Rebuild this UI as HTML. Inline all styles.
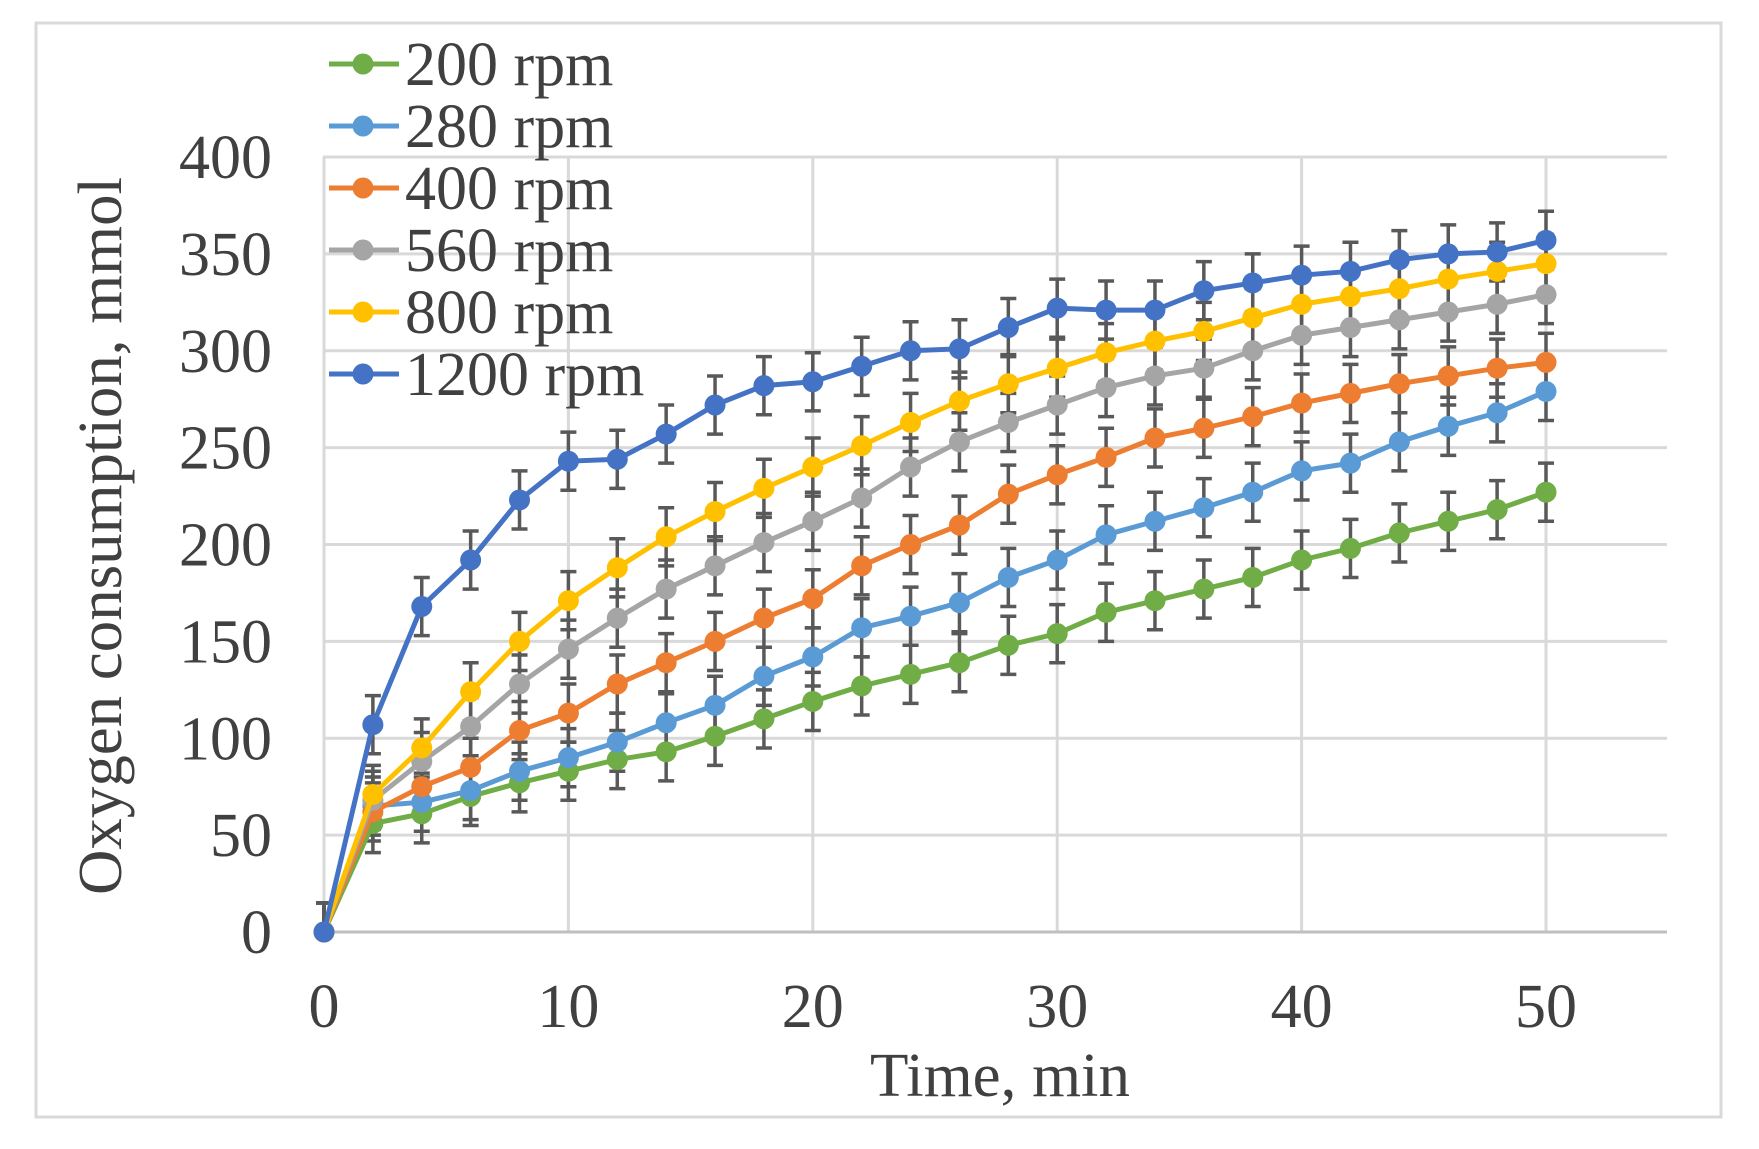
<!DOCTYPE html>
<html><head><meta charset="utf-8"><style>
html,body{margin:0;padding:0;background:#fff}
svg{display:block}
text{font-family:"Liberation Serif",serif;fill:#404040}
</style></head><body>
<svg width="1759" height="1149" viewBox="0 0 1759 1149" xmlns="http://www.w3.org/2000/svg">
<rect x="36" y="23" width="1685" height="1094" fill="#fff" stroke="#d9d9d9" stroke-width="3"/>
<g id="grid" stroke="#d9d9d9" stroke-width="3"></g>
<g id="yt" font-size="62" text-anchor="end"></g>
<g id="xt" font-size="62" text-anchor="middle"></g>
<text x="1000" y="1096" font-size="62" text-anchor="middle" textLength="260" lengthAdjust="spacingAndGlyphs">Time, min</text>
<text transform="translate(121,536) rotate(-90)" font-size="62" text-anchor="middle" textLength="718" lengthAdjust="spacingAndGlyphs">Oxygen consumption, mmol</text>
<g id="err" stroke="#595959" stroke-width="3.5"></g>
<g id="ser"></g>
<g id="leg" font-size="62"></g>
<script>
var X0=324,XU=24.44,Y0=932,YU=1.9375;
function px(x){return X0+x*XU} function py(y){return Y0-y*YU}
var ns="http://www.w3.org/2000/svg";
function el(p,t,a,txt){var e=document.createElementNS(ns,t);for(var k in a)e.setAttribute(k,a[k]);if(txt!=null)e.textContent=txt;document.getElementById(p).appendChild(e);return e}
for(var v=50;v<=400;v+=50)el("grid","line",{x1:323,x2:1667,y1:py(v),y2:py(v)});
for(var x=0;x<=50;x+=10)el("grid","line",{x1:px(x),x2:px(x),y1:157,y2:932});
el("grid","line",{x1:323,x2:1667,y1:932,y2:932,stroke:"#bfbfbf"});
for(var v=0;v<=400;v+=50)el("yt","text",{x:272,y:py(v)+21},String(v));
for(var x=0;x<=50;x+=10)el("xt","text",{x:px(x),y:1027},String(x));
var S=[
["200 rpm","#70AD47",[0,56,61,70,77,83,89,93,101,110,119,127,133,139,148,154,165,171,177,183,192,198,206,212,218,227]],
["280 rpm","#5B9BD5",[0,65,67,73,83,90,98,108,117,132,142,157,163,170,183,192,205,212,219,227,238,242,253,261,268,279]],
["400 rpm","#ED7D31",[0,62,75,85,104,113,128,139,150,162,172,189,200,210,226,236,245,255,260,266,273,278,283,287,291,294]],
["560 rpm","#A5A5A5",[0,68,88,106,128,146,162,177,189,201,212,224,240,253,263,272,281,287,291,300,308,312,316,320,324,329]],
["800 rpm","#FFC000",[0,71,95,124,150,171,188,204,217,229,240,251,263,274,283,291,299,305,310,317,324,328,332,337,341,345]],
["1200 rpm","#4472C4",[0,107,168,192,223,243,244,257,272,282,284,292,300,301,312,322,321,321,331,335,339,341,347,350,351,357]]];
S.forEach(function(s){s[2].forEach(function(v,i){var x=px(i*2),e=15;var lo=Math.max(0,v-e);
el("err","line",{x1:x,x2:x,y1:py(lo),y2:py(v+e)});
if(v-e>0)el("err","line",{x1:x-8,x2:x+8,y1:py(v-e),y2:py(v-e)});
el("err","line",{x1:x-8,x2:x+8,y1:py(v+e),y2:py(v+e)});});});
S.forEach(function(s,k){var pts=s[2].map(function(v,i){return px(i*2)+","+py(v)}).join(" ");
el("ser","polyline",{points:pts,fill:"none",stroke:s[1],"stroke-width":5,"stroke-linejoin":"round"});
s[2].forEach(function(v,i){el("ser","circle",{cx:px(i*2),cy:py(v),r:10.5,fill:s[1]})});
var cy=64+62*k;
el("leg","line",{x1:329,x2:399,y1:cy,y2:cy,stroke:s[1],"stroke-width":5});
el("leg","circle",{cx:363,cy:cy,r:10.5,fill:s[1]});
el("leg","text",{x:405,y:cy+21},s[0]);});
</script>
</svg>
</body></html>
